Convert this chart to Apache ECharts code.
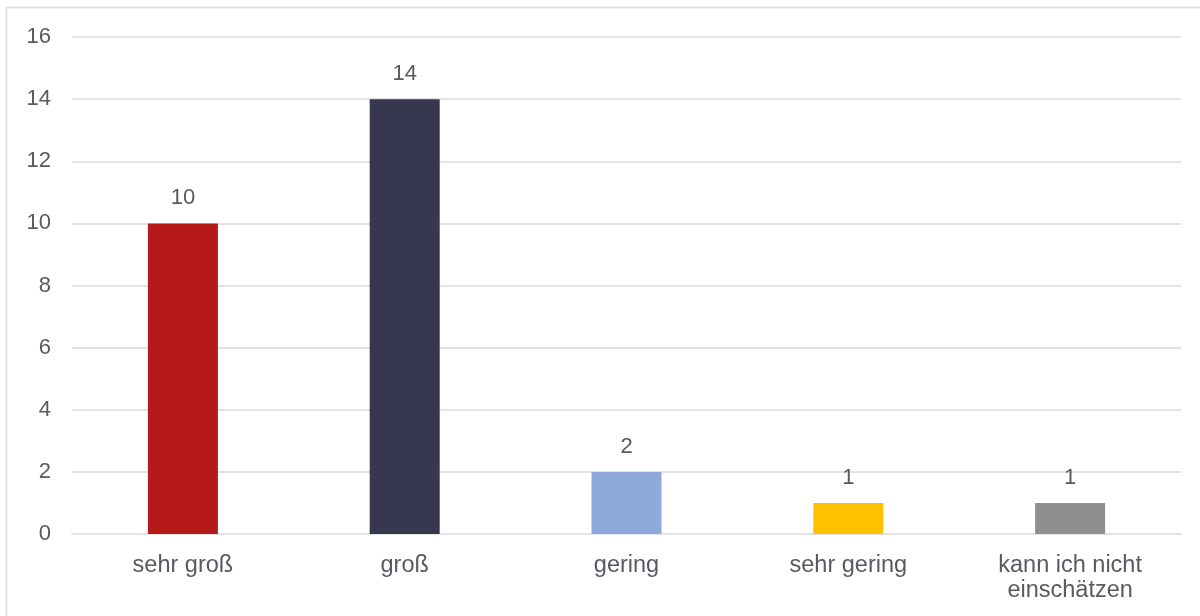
<!DOCTYPE html>
<html>
<head>
<meta charset="utf-8">
<script src="https://cdn.jsdelivr.net/npm/echarts@6/dist/echarts.min.js"></script>
<style>
  html, body { margin: 0; padding: 0; background: #fff; }
  #chart { width: 1200px; height: 616px; }
</style>
</head>
<body>
<div id="chart"></div>
<script>
// Survey answers and their counts
const categories = ['sehr groß', 'groß', 'gering', 'sehr gering', 'kann ich nicht\neinschätzen'];
const counts = [10, 14, 2, 1, 1];
const barColors = ['#B5191A', '#383750', '#8EAADB', '#FFC000', '#8F8F8F'];
const yTicks = { min: 0, max: 16, step: 2 };

const textColor = '#595962';
const font = 'Liberation Sans, Arial, sans-serif';

const chart = echarts.init(document.getElementById('chart'), null, { renderer: 'canvas' });

chart.setOption({
  animation: false,
  backgroundColor: '#fff',
  graphic: [{
    type: 'rect',
    shape: { x: 6.5, y: 7.5, width: 1300, height: 700 },
    style: { fill: 'none', stroke: '#e3e3e3', lineWidth: 2 },
    silent: true
  }],
  grid: { left: 72, right: 19, top: 37, bottom: 82, containLabel: false },
  xAxis: {
    type: 'category',
    data: categories,
    axisLine: { show: true, lineStyle: { color: '#e3e3e3', width: 2 } },
    axisTick: { show: false },
    axisLabel: { color: textColor, fontSize: 23.5, fontFamily: font, margin: 19, lineHeight: 25 }
  },
  yAxis: {
    type: 'value',
    min: yTicks.min,
    max: yTicks.max,
    interval: yTicks.step,
    axisLine: { show: false },
    axisTick: { show: false },
    splitLine: { lineStyle: { color: '#e3e3e3', width: 2 } },
    axisLabel: { color: textColor, fontSize: 22, fontFamily: font, margin: 21 }
  },
  series: [{
    type: 'bar',
    barWidth: 70,
    data: counts.map((v, i) => ({ value: v, itemStyle: { color: barColors[i] } })),
    label: {
      show: true,
      position: 'top',
      distance: 14,
      color: textColor,
      fontSize: 22,
      fontFamily: font
    }
  }]
});
</script>
</body>
</html>
